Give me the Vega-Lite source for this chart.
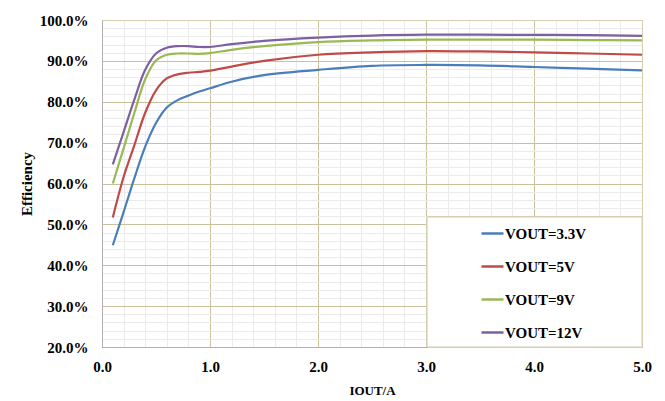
{
  "$schema": "https://vega.github.io/schema/vega-lite/v6.json",
  "width": 540,
  "height": 327,
  "autosize": {"type": "none"},
  "padding": {"left": 102, "top": 20, "right": 23, "bottom": 54},
  "background": "white",
  "config": {
    "view": {"stroke": null},
    "axis": {
      "labelFont": "Liberation Serif",
      "labelFontWeight": "bold",
      "labelColor": "black",
      "labelFlush": false,
      "titleFont": "Liberation Serif",
      "titleFontWeight": "bold",
      "titleColor": "black"
    }
  },
  "data": {
    "values": [
      {"I": 0.1, "eff": 44.9, "s": "VOUT=3.3V"},
      {"I": 0.2, "eff": 53.0, "s": "VOUT=3.3V"},
      {"I": 0.3, "eff": 61.3, "s": "VOUT=3.3V"},
      {"I": 0.4, "eff": 69.0, "s": "VOUT=3.3V"},
      {"I": 0.5, "eff": 74.8, "s": "VOUT=3.3V"},
      {"I": 0.6, "eff": 78.6, "s": "VOUT=3.3V"},
      {"I": 0.7, "eff": 80.4, "s": "VOUT=3.3V"},
      {"I": 0.8, "eff": 81.5, "s": "VOUT=3.3V"},
      {"I": 0.9, "eff": 82.5, "s": "VOUT=3.3V"},
      {"I": 1.0, "eff": 83.3, "s": "VOUT=3.3V"},
      {"I": 1.2, "eff": 84.9, "s": "VOUT=3.3V"},
      {"I": 1.5, "eff": 86.5, "s": "VOUT=3.3V"},
      {"I": 2.0, "eff": 87.8, "s": "VOUT=3.3V"},
      {"I": 2.5, "eff": 88.8, "s": "VOUT=3.3V"},
      {"I": 3.0, "eff": 89.0, "s": "VOUT=3.3V"},
      {"I": 3.5, "eff": 88.9, "s": "VOUT=3.3V"},
      {"I": 4.0, "eff": 88.5, "s": "VOUT=3.3V"},
      {"I": 4.5, "eff": 88.1, "s": "VOUT=3.3V"},
      {"I": 5.0, "eff": 87.7, "s": "VOUT=3.3V"},
      {"I": 0.1, "eff": 51.7, "s": "VOUT=5V"},
      {"I": 0.2, "eff": 61.6, "s": "VOUT=5V"},
      {"I": 0.3, "eff": 69.4, "s": "VOUT=5V"},
      {"I": 0.4, "eff": 77.3, "s": "VOUT=5V"},
      {"I": 0.5, "eff": 82.8, "s": "VOUT=5V"},
      {"I": 0.6, "eff": 85.7, "s": "VOUT=5V"},
      {"I": 0.7, "eff": 86.7, "s": "VOUT=5V"},
      {"I": 0.8, "eff": 87.1, "s": "VOUT=5V"},
      {"I": 0.9, "eff": 87.3, "s": "VOUT=5V"},
      {"I": 1.0, "eff": 87.6, "s": "VOUT=5V"},
      {"I": 1.2, "eff": 88.6, "s": "VOUT=5V"},
      {"I": 1.5, "eff": 90.0, "s": "VOUT=5V"},
      {"I": 2.0, "eff": 91.5, "s": "VOUT=5V"},
      {"I": 2.5, "eff": 92.1, "s": "VOUT=5V"},
      {"I": 3.0, "eff": 92.4, "s": "VOUT=5V"},
      {"I": 3.5, "eff": 92.3, "s": "VOUT=5V"},
      {"I": 4.0, "eff": 92.1, "s": "VOUT=5V"},
      {"I": 4.5, "eff": 91.8, "s": "VOUT=5V"},
      {"I": 5.0, "eff": 91.5, "s": "VOUT=5V"},
      {"I": 0.1, "eff": 60.0, "s": "VOUT=9V"},
      {"I": 0.2, "eff": 68.6, "s": "VOUT=9V"},
      {"I": 0.3, "eff": 77.3, "s": "VOUT=9V"},
      {"I": 0.4, "eff": 85.5, "s": "VOUT=9V"},
      {"I": 0.5, "eff": 90.1, "s": "VOUT=9V"},
      {"I": 0.6, "eff": 91.5, "s": "VOUT=9V"},
      {"I": 0.7, "eff": 91.8, "s": "VOUT=9V"},
      {"I": 0.8, "eff": 91.8, "s": "VOUT=9V"},
      {"I": 0.9, "eff": 91.7, "s": "VOUT=9V"},
      {"I": 1.0, "eff": 91.9, "s": "VOUT=9V"},
      {"I": 1.2, "eff": 92.7, "s": "VOUT=9V"},
      {"I": 1.5, "eff": 93.6, "s": "VOUT=9V"},
      {"I": 2.0, "eff": 94.6, "s": "VOUT=9V"},
      {"I": 2.5, "eff": 95.0, "s": "VOUT=9V"},
      {"I": 3.0, "eff": 95.2, "s": "VOUT=9V"},
      {"I": 3.5, "eff": 95.2, "s": "VOUT=9V"},
      {"I": 4.0, "eff": 95.2, "s": "VOUT=9V"},
      {"I": 4.5, "eff": 95.1, "s": "VOUT=9V"},
      {"I": 5.0, "eff": 95.0, "s": "VOUT=9V"},
      {"I": 0.1, "eff": 64.7, "s": "VOUT=12V"},
      {"I": 0.2, "eff": 72.6, "s": "VOUT=12V"},
      {"I": 0.3, "eff": 80.6, "s": "VOUT=12V"},
      {"I": 0.4, "eff": 87.8, "s": "VOUT=12V"},
      {"I": 0.5, "eff": 91.8, "s": "VOUT=12V"},
      {"I": 0.6, "eff": 93.2, "s": "VOUT=12V"},
      {"I": 0.7, "eff": 93.6, "s": "VOUT=12V"},
      {"I": 0.8, "eff": 93.6, "s": "VOUT=12V"},
      {"I": 0.9, "eff": 93.4, "s": "VOUT=12V"},
      {"I": 1.0, "eff": 93.4, "s": "VOUT=12V"},
      {"I": 1.2, "eff": 94.1, "s": "VOUT=12V"},
      {"I": 1.5, "eff": 94.9, "s": "VOUT=12V"},
      {"I": 2.0, "eff": 95.7, "s": "VOUT=12V"},
      {"I": 2.5, "eff": 96.2, "s": "VOUT=12V"},
      {"I": 3.0, "eff": 96.4, "s": "VOUT=12V"},
      {"I": 3.5, "eff": 96.4, "s": "VOUT=12V"},
      {"I": 4.0, "eff": 96.35, "s": "VOUT=12V"},
      {"I": 4.5, "eff": 96.3, "s": "VOUT=12V"},
      {"I": 5.0, "eff": 96.1, "s": "VOUT=12V"}
    ]
  },
  "resolve": {"axis": {"x": "independent", "y": "independent"}},
  "layer": [
    {
      "mark": {"type": "rect", "fill": "white", "stroke": "#d5cfb0", "strokeWidth": 1},
      "encoding": {
        "x": {
          "datum": 3.01,
          "type": "quantitative",
          "scale": {"domain": [0, 5], "nice": false, "zero": false},
          "axis": {
            "orient": "top",
            "values": [0.2, 0.4, 0.6, 0.8, 1.2, 1.4, 1.6, 1.8, 2.2, 2.4, 2.6, 2.8, 3.2, 3.4, 3.6, 3.8, 4.2, 4.4, 4.6, 4.8],
            "grid": true,
            "gridColor": "#ebebeb",
            "gridWidth": 1,
            "labels": false,
            "ticks": false,
            "domain": true,
            "domainColor": "#d5cfb0",
            "title": null
          }
        },
        "x2": {"datum": 5},
        "y": {
          "datum": 20,
          "type": "quantitative",
          "scale": {"domain": [20, 100], "nice": false, "zero": false},
          "axis": {
            "orient": "right",
            "values": [22, 24, 26, 28, 32, 34, 36, 38, 42, 44, 46, 48, 52, 54, 56, 58, 62, 64, 66, 68, 72, 74, 76, 78, 82, 84, 86, 88, 92, 94, 96, 98],
            "grid": true,
            "gridColor": "#ebebeb",
            "gridWidth": 1,
            "labels": false,
            "ticks": false,
            "domain": true,
            "domainColor": "#d5cfb0",
            "title": null
          }
        },
        "y2": {"datum": 51.8}
      }
    },
    {
      "mark": {"type": "line", "interpolate": "catmull-rom", "strokeWidth": 2.2},
      "encoding": {
        "x": {
          "field": "I",
          "type": "quantitative",
          "axis": {
            "orient": "bottom",
            "values": [0, 1, 2, 3, 4, 5],
            "format": ".1f",
            "grid": true,
            "gridColor": "#c9c19c",
            "gridWidth": 1,
            "ticks": false,
            "tickSize": 0,
            "domainColor": "#b0b0b0",
            "labelFontSize": 15,
            "labelPadding": 12,
            "title": "IOUT/A",
            "titleFontSize": 13,
            "titlePadding": 10
          }
        },
        "y": {
          "field": "eff",
          "type": "quantitative",
          "axis": {
            "orient": "left",
            "values": [20, 30, 40, 50, 60, 70, 80, 90, 100],
            "labelExpr": "format(datum.value, '.1f') + '%'",
            "grid": true,
            "gridColor": "#c9c19c",
            "gridWidth": 1,
            "ticks": false,
            "tickSize": 0,
            "domainColor": "#b0b0b0",
            "labelFontSize": 15,
            "labelPadding": 14,
            "title": "Efficiency",
            "titleFontSize": 15,
            "titlePadding": 5
          }
        },
        "color": {
          "field": "s",
          "type": "nominal",
          "scale": {
            "domain": ["VOUT=3.3V", "VOUT=5V", "VOUT=9V", "VOUT=12V"],
            "range": ["#4a7ebb", "#be4b48", "#98b954", "#7d60a0"]
          },
          "legend": {
            "orient": "none",
            "legendX": 378,
            "legendY": 201,
            "title": null,
            "padding": 0,
            "symbolType": "stroke",
            "symbolSize": 484,
            "symbolStrokeWidth": 2.5,
            "labelFont": "Liberation Serif",
            "labelFontWeight": "bold",
            "labelFontSize": 15,
            "labelColor": "black",
            "labelOffset": 0,
            "rowPadding": 12
          }
        }
      }
    }
  ]
}
